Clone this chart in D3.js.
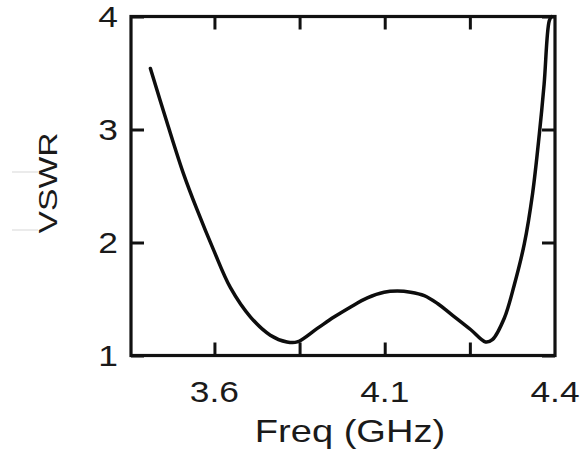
<!DOCTYPE html>
<html>
<head>
<meta charset="utf-8">
<script src="https://cdn.jsdelivr.net/npm/d3@7"></script>
<style>
  html, body { margin: 0; padding: 0; background: #fff; }
  svg { display: block; }
  text { font-family: "Liberation Sans", Arial, sans-serif; fill: #1a1a1a; }
</style>
</head>
<body>
<div id="chart"></div>
<script>
'use strict';

var freq = [3.412, 3.461, 3.509, 3.549, 3.598, 3.647, 3.706, 3.764, 3.813, 3.843,
            3.902, 3.951, 4.000, 4.049, 4.098, 4.137, 4.176, 4.216, 4.255, 4.293,
            4.352, 4.396, 4.416, 4.451, 4.480, 4.510, 4.534, 4.554, 4.568, 4.583,
            4.590];
var vswr = [3.54, 3.06, 2.61, 2.29, 1.93, 1.60, 1.34, 1.18, 1.12, 1.12,
            1.24, 1.34, 1.43, 1.51, 1.56, 1.57, 1.56, 1.53, 1.46, 1.37,
            1.23, 1.12, 1.14, 1.33, 1.62, 1.99, 2.43, 2.96, 3.40, 3.96,
            4.00];

var xDomain = [3.355, 4.6];
var yDomain = [1, 4];
var xTicks = [3.6, 3.85, 4.1, 4.35];
var xLabelValues = [3.6, 4.1, 4.6];
var xLabelTexts = ['3.6', '4.1', '4.4'];   // printed as on the original figure
var yTicks = [1, 2, 3, 4];

var width = 582, height = 457;
var margin = {top: 16.5, right: 27, bottom: 101.5, left: 131};
var fontStretch = 1.22; // original lettering is wider than Arial

var svg = d3.select('#chart').append('svg')
    .attr('width', width)
    .attr('height', height);

var x = d3.scaleLinear().domain(xDomain).range([margin.left, width - margin.right]);
var y = d3.scaleLinear().domain(yDomain).range([height - margin.bottom, margin.top]);

// inward ticks on all four sides
function tickAxis(axis, tx, ty) {
    var g = svg.append('g').attr('transform', 'translate(' + tx + ',' + ty + ')')
        .call(axis.tickSizeInner(-13).tickSizeOuter(0).tickFormat(''));
    g.select('.domain').remove();
    g.selectAll('line').attr('stroke', '#111').attr('stroke-width', 3);
    g.selectAll('text').remove();
    return g;
}
tickAxis(d3.axisBottom(x).tickValues(xTicks), 0, y(1));
tickAxis(d3.axisTop(x).tickValues(xTicks), 0, y(4));
tickAxis(d3.axisLeft(y).tickValues(yTicks), x.range()[0], 0);
tickAxis(d3.axisRight(y).tickValues(yTicks), x.range()[1], 0);

// frame
svg.append('rect')
    .attr('x', x.range()[0])
    .attr('y', y(4))
    .attr('width', x.range()[1] - x.range()[0])
    .attr('height', y(1) - y(4))
    .attr('fill', 'none')
    .attr('stroke', '#111')
    .attr('stroke-width', 3.2);

// tick labels
svg.append('g').selectAll('text')
    .data(yTicks)
    .join('text')
    .attr('transform', function(d){ return 'translate(' + (x.range()[0] - 13) + ',' + y(d) + ') scale(' + fontStretch + ',1)'; })
    .attr('dy', '0.36em')
    .attr('text-anchor', 'end')
    .style('font-size', '29px')
    .text(function(d){ return d; });

svg.append('g').selectAll('text')
    .data(xLabelValues)
    .join('text')
    .attr('transform', function(d){ return 'translate(' + x(d) + ',402) scale(' + fontStretch + ',1)'; })
    .attr('text-anchor', 'middle')
    .style('font-size', '29px')
    .text(function(d, i){ return xLabelTexts[i]; });

// axis titles
svg.append('text')
    .attr('transform', 'translate(350,442) scale(1.19,1)')
    .attr('text-anchor', 'middle')
    .style('font-size', '32px')
    .text('Freq (GHz)');

svg.append('text')
    .attr('transform', 'translate(57,183) rotate(-90) scale(1.27,1)')
    .attr('text-anchor', 'middle')
    .style('font-size', '26.5px')
    .text('VSWR');

// faint scan marks left of the label
svg.append('g').selectAll('line')
    .data([172, 230])
    .join('line')
    .attr('x1', 12).attr('x2', 38)
    .attr('y1', function(d){ return d; }).attr('y2', function(d){ return d; })
    .attr('stroke', '#e4e4e4')
    .attr('stroke-width', 1.5);

// VSWR curve
var line = d3.line()
    .x(function(d){ return x(d[0]); })
    .y(function(d){ return y(d[1]); })
    .curve(d3.curveCatmullRom.alpha(0.5));

svg.append('path')
    .datum(d3.zip(freq, vswr))
    .attr('d', line)
    .attr('fill', 'none')
    .attr('stroke', '#0d0d0d')
    .attr('stroke-width', 3.5)
    .attr('stroke-linejoin', 'round')
    .attr('stroke-linecap', 'round');
</script>
</body>
</html>
